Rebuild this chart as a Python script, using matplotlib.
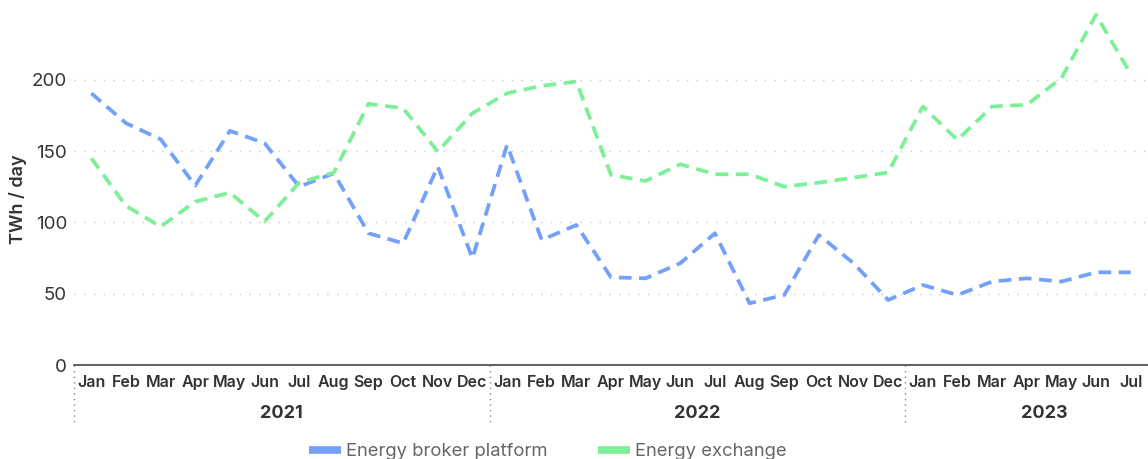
import numpy as np
import matplotlib
matplotlib.use("Agg")
import matplotlib.pyplot as plt
import matplotlib.transforms as mtransforms
from matplotlib.lines import Line2D

plt.rcParams['font.family'] = ['Inter', 'DejaVu Sans']

months = ["Jan", "Feb", "Mar", "Apr", "May", "Jun", "Jul", "Aug", "Sep", "Oct", "Nov", "Dec",
          "Jan", "Feb", "Mar", "Apr", "May", "Jun", "Jul", "Aug", "Sep", "Oct", "Nov", "Dec",
          "Jan", "Feb", "Mar", "Apr", "May", "Jun", "Jul"]
years = ["2021", "2022", "2023"]
year_start = [0, 12, 24]

broker = [190.6, 169.6, 158.3, 125.8, 164.2, 155.6, 125.1, 134.5, 92.4, 85.4, 139.2, 74.9,
          154.4, 87.7, 98.2, 61.5, 60.8, 71.4, 92.4, 43.3, 49.1, 91.2, 71.4, 45.6,
          56.1, 49.1, 58.5, 60.8, 58.5, 65.0, 65.0]
exchange = [145.0, 111.6, 97.0, 114.6, 120.9, 100.6, 127.9, 135.0, 183.2, 180.1, 149.7, 176.6,
            190.6, 195.8, 198.8, 133.3, 129.1, 140.8, 133.8, 133.8, 125.1, 127.9, 131.4, 135.0,
            181.3, 157.9, 181.3, 182.5, 201.2, 245.6, 204.2]

blue = "#72a0fa"
green = "#7def97"

fig = plt.figure(figsize=(11.48, 4.59), dpi=100)
ax = fig.add_axes([74/1148, 94/459, 1 - 74/1148, 365/459])

x = np.arange(len(months))
ax.plot(x, broker, color=blue, lw=2.7, dashes=(3.4, 2.0), dash_capstyle='butt')
ax.plot(x, exchange, color=green, lw=2.7, dashes=(3.4, 2.0), dash_capstyle='butt')

ax.set_xlim(-0.5, len(months) - 0.5)
ax.set_ylim(0, 256)
ax.set_yticks([0, 50, 100, 150, 200])
ax.grid(axis='y', color='#c8c8c8', linestyle=(0, (1, 6)), lw=1)
ax.set_axisbelow(True)
for s in ['top', 'right', 'left']:
    ax.spines[s].set_visible(False)
ax.spines['bottom'].set_color('#444444')
ax.spines['bottom'].set_linewidth(1.2)

ax.set_xticks(x)
ax.set_xticklabels(months, fontsize=11.5, fontweight='semibold', color='#333333')
ax.tick_params(axis='x', length=0, pad=7)
ax.tick_params(axis='y', length=0, pad=5, labelsize=13.5, labelcolor='#333333')

ax.set_ylabel("TWh / day", fontsize=13, fontweight='semibold', color='#333333')
ax.yaxis.set_label_coords(-0.044, 0.455)

trans = mtransforms.blended_transform_factory(ax.transData, ax.transAxes)
# year separators
for s in year_start:
    ax.plot([s - 0.5, s - 0.5], [0, -0.155], transform=trans, clip_on=False,
            color='#888888', lw=1, linestyle=(0, (1, 3)))
# year labels (last group is centred a bit to the right, as in the original)
for i, (yr, s) in enumerate(zip(years, year_start)):
    end = year_start[i + 1] - 1 if i + 1 < len(year_start) else len(months)
    ax.text((s + end) / 2, -0.133, yr, transform=trans, ha='center', va='center',
            fontsize=13, fontweight='bold', color='#333333')

handles = [Line2D([], [], color=blue, lw=5.5, solid_capstyle='butt'),
           Line2D([], [], color=green, lw=5.5, solid_capstyle='butt')]
fig.legend(handles, ["Energy broker platform", "Energy exchange"], loc='center',
           bbox_to_anchor=(0.4774, 0.016), ncol=2, frameon=False, fontsize=13.3,
           labelcolor='#666666', handlelength=1.7, handletextpad=0.3, columnspacing=2.75)

fig.savefig("out.png", dpi=100)
